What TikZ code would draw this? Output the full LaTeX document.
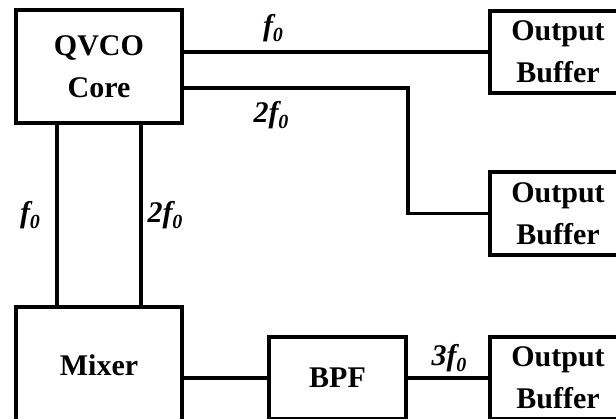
\documentclass[tikz,border=0pt]{standalone}
\usepackage{fontspec}
\setmainfont{Liberation Serif}
\newcommand{\fsub}{f\raisebox{-0.45ex}{\fontsize{10}{10}\selectfont 0}}
\begin{document}
\begin{tikzpicture}[x=0.5pt,y=-0.5pt,
  blk/.style={draw,line width=1.6pt,rectangle,inner sep=0pt,align=center,font=\bfseries\fontsize{15}{21}\selectfont},
  wire/.style={line width=1.6pt},
  lbl/.style={inner sep=0pt,font=\bfseries\itshape\fontsize{15}{16}\selectfont}]
\useasboundingbox (0,0) rectangle (616,418);
\clip (0,0) rectangle (616,418);
\node[blk,minimum width=83pt,minimum height=56.5pt] (qvco) at (99,66.5) {QVCO\\Core};
\node[blk,minimum width=68pt,minimum height=41pt] (ob1) at (558,52) {Output\\Buffer};
\node[blk,minimum width=68pt,minimum height=41.5pt] (ob2) at (558,213.5) {Output\\Buffer};
\node[blk,minimum width=68pt,minimum height=41pt] (ob3) at (558,378) {Output\\Buffer};
\node[blk,minimum width=83pt,minimum height=58pt] (mixer) at (99,365) {Mixer};
\node[blk,minimum width=68.5pt,minimum height=41pt] (bpf) at (337.5,378) {BPF};
\coordinate (k) at (408,88);
\coordinate (a1) at (57,0);
\coordinate (a2) at (141,0);
\draw[wire] (qvco.east |- ob1.west) -- (ob1.west);
\draw[wire] (qvco.east |- k) -- (k) |- (ob2.west);
\draw[wire] (qvco.south -| a1) -- (mixer.north -| a1);
\draw[wire] (qvco.south -| a2) -- (mixer.north -| a2);
\draw[wire] (mixer.east |- bpf.west) -- (bpf.west);
\draw[wire] (bpf.east) -- (ob3.west);
\node[lbl] (l1) at (273,28) {\fsub};
\node[lbl] (l2) at (271,115) {2\fsub};
\node[lbl] (l3) at (30,215) {\fsub};
\node[lbl] (l4) at (165,215) {2\fsub};
\node[lbl] (l5) at (449,358) {3\fsub};
\end{tikzpicture}
\end{document}
